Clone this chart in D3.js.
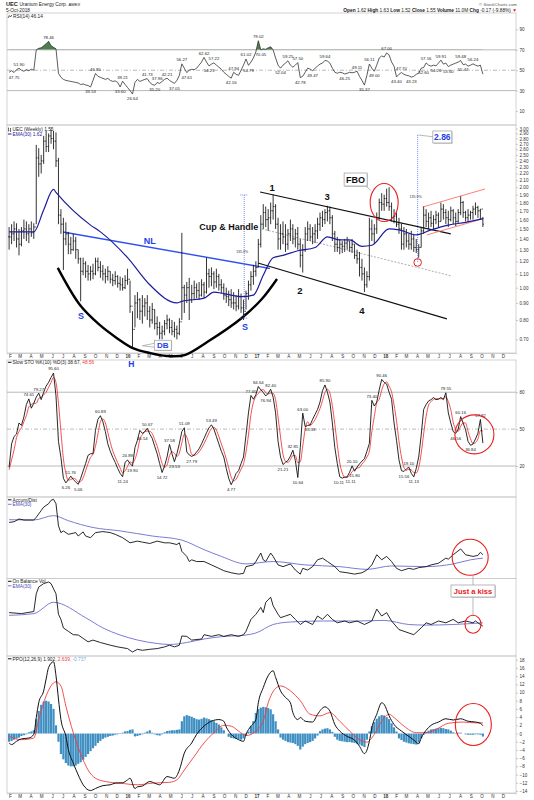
<!DOCTYPE html>
<html><head><meta charset="utf-8"><title>UEC weekly</title>
<script src="https://cdn.jsdelivr.net/npm/d3@7/dist/d3.min.js"></script>
<style>html,body{margin:0;padding:0;background:#fff}svg{display:block}</style>
</head><body>
<svg id="chart" width="534" height="800"></svg>
<script>
// ---------------- DATA ----------------
const firstWeek = "2015-01-30";
const monthLetters = ["J","F","M","A","M","J","J","A","S","O","N","D"];

const priceHigh = [1.52,1.55,1.58,1.56,1.50,1.52,1.60,1.58,1.55,1.58,1.56,
 2.68,2.62,2.50,2.85,2.95,2.90,2.98,2.95,2.92,
 2.45,1.72,1.62,1.57,1.47,1.42,1.45,1.42,1.30,1.23,
 1.23,1.20,1.17,1.16,1.18,1.23,1.23,1.20,1.17,1.14,
 1.16,1.12,1.10,1.12,1.09,1.08,1.07,1.09,1.14,1.05,
 0.85,0.95,0.97,0.93,0.95,0.93,0.95,0.88,0.90,0.86,
 0.82,0.79,0.77,0.80,0.83,0.81,0.80,0.79,0.77,0.81,
 1.46,1.02,1.04,1.07,1.02,1.05,1.03,1.04,1.06,1.04,
 1.23,1.14,1.15,1.12,1.14,1.10,1.06,1.03,1.00,0.98,
 0.99,0.97,0.95,0.99,0.96,0.92,0.98,1.05,1.12,1.17,
 1.20,1.40,1.65,1.78,1.75,1.72,1.80,1.90,1.78,1.62,
 1.55,1.58,1.55,1.50,1.60,1.55,1.50,1.52,1.40,1.35,
 1.52,1.58,1.55,1.52,1.55,1.62,1.68,1.70,1.72,1.76,
 1.75,1.65,1.48,1.42,1.40,1.38,1.40,1.42,1.38,1.40,
 1.35,1.30,1.28,1.22,1.15,1.12,1.62,1.60,1.55,1.68,
 1.85,1.92,1.90,1.98,2.00,1.80,1.72,1.68,1.62,1.56,
 1.52,1.50,1.45,1.48,1.45,1.40,1.35,1.52,1.75,1.72,
 1.68,1.70,1.65,1.70,1.68,1.80,1.78,1.72,1.70,1.75,
 1.72,1.68,1.72,1.88,1.82,1.70,1.72,1.70,1.76,1.80,
 1.76,1.72,1.63];
const priceLow = [1.30,1.35,1.38,1.32,1.25,1.33,1.40,1.38,1.36,1.42,1.40,
 1.55,2.15,2.20,2.35,2.55,2.55,2.70,2.60,2.30,
 1.55,1.45,1.13,1.34,1.26,1.26,1.29,1.22,1.18,0.91,
 1.09,1.07,1.05,1.05,1.06,1.09,1.12,1.07,1.05,1.03,
 1.05,1.03,1.01,1.02,1.00,0.98,0.98,0.99,1.02,0.84,
 0.66,0.76,0.81,0.80,0.78,0.82,0.80,0.76,0.78,0.75,
 0.72,0.70,0.70,0.72,0.75,0.73,0.72,0.71,0.70,0.72,
 0.80,0.84,0.90,0.80,0.90,0.92,0.93,0.92,0.94,0.93,
 0.96,1.00,1.01,0.99,1.00,0.98,0.96,0.92,0.90,0.88,
 0.87,0.86,0.85,0.86,0.84,0.80,0.86,0.92,0.98,1.02,
 1.08,1.15,1.32,1.50,1.52,1.48,1.55,1.60,1.50,1.30,
 1.30,1.35,1.28,1.30,1.38,1.35,1.32,1.30,1.15,1.11,
 1.28,1.38,1.38,1.35,1.36,1.40,1.48,1.52,1.55,1.58,
 1.55,1.38,1.28,1.28,1.26,1.27,1.28,1.30,1.28,1.27,
 1.22,1.18,1.08,1.05,0.97,1.00,1.05,1.38,1.35,1.45,
 1.60,1.70,1.70,1.75,1.70,1.58,1.56,1.52,1.45,1.30,
 1.30,1.32,1.30,1.30,1.28,1.27,1.23,1.32,1.45,1.52,
 1.50,1.52,1.50,1.55,1.52,1.58,1.60,1.55,1.52,1.58,
 1.55,1.53,1.56,1.65,1.62,1.58,1.57,1.60,1.60,1.65,
 1.62,1.60,1.52];
const priceClose = [1.42,1.45,1.50,1.40,1.35,1.48,1.50,1.45,1.50,1.46,1.52,
 2.45,2.35,2.40,2.75,2.65,2.85,2.80,2.75,2.40,
 1.65,1.55,1.40,1.45,1.35,1.30,1.38,1.30,1.22,1.12,
 1.18,1.12,1.10,1.12,1.10,1.20,1.15,1.12,1.10,1.08,
 1.12,1.06,1.05,1.08,1.03,1.02,1.00,1.05,1.06,0.88,
 0.75,0.90,0.92,0.85,0.88,0.90,0.85,0.80,0.86,0.78,
 0.76,0.73,0.74,0.78,0.80,0.76,0.74,0.75,0.73,0.79,
 1.00,0.95,1.00,0.92,0.96,1.00,0.98,0.95,1.02,0.97,
 1.10,1.08,1.10,1.04,1.08,1.02,1.00,0.95,0.94,0.92,
 0.90,0.90,0.88,0.94,0.87,0.85,0.96,1.02,1.08,1.12,
 1.15,1.35,1.55,1.68,1.60,1.62,1.70,1.75,1.55,1.40,
 1.45,1.42,1.35,1.45,1.50,1.40,1.45,1.35,1.25,1.30,
 1.45,1.50,1.42,1.45,1.48,1.55,1.62,1.60,1.68,1.70,
 1.62,1.45,1.35,1.32,1.35,1.33,1.36,1.38,1.32,1.35,
 1.25,1.22,1.15,1.10,1.02,1.08,1.50,1.45,1.50,1.62,
 1.80,1.78,1.85,1.80,1.75,1.62,1.64,1.55,1.50,1.35,
 1.45,1.38,1.35,1.40,1.32,1.30,1.32,1.48,1.65,1.58,
 1.62,1.56,1.60,1.65,1.58,1.72,1.68,1.62,1.60,1.70,
 1.62,1.58,1.68,1.80,1.68,1.62,1.65,1.68,1.72,1.74,
 1.70,1.72,1.55];

const emaWeek  = [0,10,14,18,19,33,37,48,57,68,70,79,83,87,94,99,103,107,111,117,124,129,134,138,143,147,154,158,165,171,178,185,192];
const emaValue = [1.47,1.47,1.71,1.97,1.93,1.54,1.47,1.23,1.02,0.90,0.91,0.93,0.97,0.96,0.94,0.95,1.09,1.23,1.25,1.29,1.32,1.42,1.39,1.39,1.33,1.34,1.50,1.49,1.44,1.49,1.54,1.57,1.61];

const rsiValues = [48,49.5,47.75,50.5,51.9,50,49,50.5,49.5,51,50,
 70,71.5,72,74,76,78.46,74,72.5,71,
 47,43,41,40,39.5,39,38.5,38,37.5,36,
 36.5,35.5,35,33.53,40,46.85,44,43,42,41,
 42,40,39,39.5,38,33.6,39.21,36,33,30,
 26.64,38,41,39,40,41,41.73,38,36,35.2,
 37.96,37,39,41,42.21,40,38.5,37.05,40,45,
 56.27,52,47.61,50,51,50.5,52,55,58,62.62,
 58,54.23,56,57.22,55,53,51,48,46,44,
 42.16,47.94,46,45,50,55,61.02,54.79,58,62,
 68,79.02,70.05,71,70.5,72,73,70,62,55,
 52.04,55,57,59.25,55,53,55,57.5,42.78,44,
 48,52,51,49.47,52,54,56,57,59.64,59,
 57,52,48,47,48,47.5,46.25,47,48,47.5,
 48,49.11,44,40,35.37,45,56.11,52,49,55,
 62,64,63,67,65,58,54,43.4,46,47.7,
 46,45,44.5,43.23,44,46,47,52,52.6,57.16,
 55,54,55,54.26,57,59.91,56,57,53.6,55,
 56,57,58,59.48,55.47,56,54,55,56.24,55,
 54,55,46.14];
const rsiLabelIdx = [2,4,16,33,35,45,46,50,56,59,60,64,67,70,72,79,81,83,90,91,96,97,101,102,110,113,117,118,123,128,136,141,144,146,148,153,157,159,163,168,169,173,175,178,183,184,188];
const rsiLabelUp  = [0,1,1,0,1,0,1,0,1,0,1,1,0,1,0,1,0,1,0,1,1,0,1,0,0,1,1,0,0,1,0,1,0,1,0,1,0,1,0,0,1,0,1,0,1,0,1];

const stoK = [19,38,44,46,55,53,60,70,74.61,67,
 71,76,79.27,74,80,85,88,92,95.6,77,
 40,27,10,6.26,9,11.76,9,7,5.06,10,
 16,22,28.7,30,30,49,58,60.89,56,48,
 38,32,27,23,18,14,11.24,23,24.89,22,
 19.9,35,41,49,46.54,48,50.67,46,42.5,36,
 30,22,14.72,20,27.3,37.58,30,23.53,30,38.3,
 48,51.09,31.4,29,27.79,29,31.4,34,38,42.5,
 47,51,53.49,50,44,38,32,27.3,18,10,
 4.77,9,14,16.2,22,27.3,45,63.2,77.4,74.3,
 78,84.64,82,79.8,76.94,79,82.4,76,63.2,40,
 27.3,21.21,23,24.5,28,32.85,24.5,10.64,35,63,
 52,53,53.33,58,62,66,72,81.2,85.9,80,
 72,55,35,22,11.2,10.11,11,11.11,15,20.1,
 15.8,19,21.7,24,25.9,32,38.3,73.4,68.8,72,
 82,90.46,88,86.7,80,74.3,55,41,25,16.2,
 15.56,17.6,19.1,14,11.13,18,27.3,45,66,70,
 72.9,74,75.7,74,74.3,75.7,74,79.55,63.2,55,
 48,46.56,50,60.16,55,49.4,40,36.84,37.8,42,
 46.6,57.82,38.67];
const stoD = [17,25,33,43,48,51,56,61,68,70,
 71,71,75,76,78,80,84,88,92,88,
 71,48,26,14,8.5,9,10,9.3,7,7.4,
 10.4,16,22,27,29.6,36,46,56,58.3,55,
 47.3,39.3,32.3,27.3,22.7,18.3,14.4,16,19.7,23.3,
 22.3,25.6,32,41.7,45.5,47.8,48.4,48.2,46.4,41.5,
 36.2,29.3,22.2,19,20.7,28.3,31.6,30.4,27.8,30.6,
 38.8,45.8,43.5,37.2,29.4,28.6,29.4,31.5,34.5,38.2,
 42.5,46.8,50.5,51.5,49.2,44,38,32.4,25.8,18.4,
 10.9,7.9,9.3,13.1,17.4,21.8,31.4,45.2,61.9,71.6,
 76.6,79,81.5,82.1,79.6,78.6,79.4,79.1,73.9,59.7,
 43.5,29.5,23.8,22.9,25.2,28.5,28.5,22.7,23.4,36.2,
 50,56,52.8,54.8,57.8,62,66.7,73.1,79.7,82.4,
 79.3,69,54,37.3,22.7,14.4,10.8,10.7,12.4,15.4,
 17,18.3,18.8,21.6,23.9,27.3,32.1,47.9,60.2,71.4,
 74.3,81.5,86.8,88.4,84.9,80.3,69.8,56.8,40.3,27.4,
 18.9,16.5,17.4,16.9,14.7,14.4,18.8,30.1,46.1,60.3,
 69.6,72.3,74.2,74.6,74.7,74.7,74.7,76.4,72.3,65.9,
 55.4,49.9,48.2,52.3,55.1,54.9,48.1,42.1,38.2,38.9,
 42.1,48.8,48.56];
const stoLabelIdx = [8,12,18,23,25,28,37,46,48,50,54,56,62,65,67,71,74,82,90,98,101,104,106,111,115,117,119,122,128,135,137,139,140,147,151,160,162,164,177,181,183,187,191];
const stoLabelUp  = [1,1,1,0,1,0,1,0,1,0,0,1,0,1,0,1,0,1,0,1,1,0,1,0,1,0,1,0,1,0,0,1,0,1,1,0,1,0,1,0,1,0,1];

const adWeek  = [0,2,4,6,10,11,12,13,14,16,17,18,19,20,21,22,24,27,28,30,31,33,35,38,41,43,46,49,52,54,57,60,63,65,68,69,70,72,73,74,76,79,82,85,87,90,93,95,96,99,100,102,103,104,106,107,109,111,114,116,118,119,121,123,125,127,129,132,134,137,140,143,145,147,149,151,153,155,157,159,162,164,166,169,171,174,177,178,180,183,185,188,190,191,192];
const adValue = [170,172,180,177,177,185,195,205,215,225,235,238,225,160,140,145,135,140,130,142,130,125,140,143,140,135,125,110,115,112,108,115,110,110,105,110,85,70,55,60,55,55,45,35,28,22,18,20,40,45,55,80,60,55,80,70,45,40,48,30,18,35,30,40,60,65,55,40,25,22,18,22,30,45,75,60,70,55,35,28,35,32,37,40,45,50,65,62,75,92,75,70,73,82,75];
const adEmaWeek  = [0,10,18,24,34,45,58,70,79,86,96,107,120,134,145,155,169,180,187,192];
const adEmaValue = [178,177,190,175,155,145,130,118,90,70,48,55,45,40,32,42,40,48,60,65];

const obvWeek  = [0,5,10,11,12,14,16,17,19,20,21,22,24,26,28,30,32,34,37,41,44,48,50,52,54,57,60,63,65,67,69,70,72,74,78,79,82,85,87,90,93,95,96,98,100,102,103,104,106,107,109,110,112,114,116,118,120,123,125,127,129,131,133,136,138,141,144,147,149,151,153,155,158,160,164,167,169,171,174,177,180,182,185,188,189,190,192];
const obvValue = [47.4,46.4,48.5,66.2,73,76.4,78,76.4,66.2,45.7,40.6,32.1,28.7,25.3,25,21.6,18.2,19.9,17.5,14.8,13.1,11.4,8,10.7,9.7,10.7,11.4,13.1,14.8,13.1,14.8,24,23.6,19.9,21,25.3,23.6,25.3,23.6,25.3,23.6,25.3,28.7,40.6,45.7,52.6,47.4,57.7,62.8,54.3,45.7,42.3,44,45.7,40.6,35.5,39,35.5,44,40.6,45.7,40.6,37.2,39,37.2,39,35.5,39,50.9,44,47.4,39,30.4,28.7,25.3,32.1,37.2,35.5,39,37.2,40.6,37.2,39,37.2,39,37.2,33.8];
const obvEmaWeek  = [0,10,18,31,38,45,52,60,65,72,79,86,96,100,107,114,127,141,152,162,169,180,192];
const obvEmaValue = [44.7,46.4,57.7,42.3,32.1,25,20,16.5,15.5,17.5,21,23.3,25,27,35.5,38,39,39,39.6,35.5,34.9,35.5,37.2];

const ppoWeek  = [0,1,3,5,8,10,11,12,14,15,16,18,19,20,21,23,24,26,28,30,33,35,38,41,43,46,48,49,51,52,54,57,59,61,64,67,69,71,74,76,79,82,85,87,88,90,93,95,96,98,100,101,103,105,107,108,110,112,114,115,117,118,120,123,125,128,130,132,134,137,140,142,144,146,147,149,151,152,154,156,159,162,164,166,167,169,171,174,177,180,183,186,189,191,192];
const ppoValue = [-2.3,-2.7,-1.9,-1.3,-1.1,-0.2,3.9,7.5,10.4,13.3,16.1,17.5,14.1,8.4,3.4,-0.7,-3.9,-7.2,-10.1,-12.5,-13.9,-13.4,-12.7,-12.5,-12.1,-12,-11.3,-10.9,-13.4,-13,-12.8,-11.7,-12.1,-12.5,-10.5,-10.9,-8.9,-4.8,-2.3,-0.2,1.8,3.0,3.4,3.0,1.6,-0.2,-1.5,-1.9,-0.2,1.8,3.4,7.5,11.2,14.1,15.3,13.7,10.4,8.8,7.5,5.1,3.4,3.9,3.0,2.8,4.7,6.5,5.5,2.2,0.6,-0.7,-1.6,-3.1,-4.9,-1.9,1.4,4.7,7.5,7.1,4.3,2.2,0.6,-0.7,-1.6,-2.5,-1.1,0.8,2.0,2.8,3.6,3.3,3.6,3.0,2.8,2.5,1.9];
const sigWeek  = [0,5,10,12,15,19,21,23,26,30,32,35,39,45,52,58,65,68,71,75,79,83,87,90,93,96,100,103,105,108,110,114,118,122,126,130,134,138,142,145,148,151,154,156,160,165,169,173,178,184,189,192];
const sigValue = [-0.7,-1.5,-1.1,3.4,9.2,12.6,11.6,6.7,0.2,-6.4,-8.9,-10.9,-11.7,-12.1,-12.5,-12.1,-11.9,-11.3,-8.9,-5.6,-2.3,0.2,2.0,1.8,0.6,-0.5,0.6,3.0,7.5,11,11.6,10.4,8,4.7,4.3,5.1,3.0,0.6,-1.5,-2.1,-0.2,3.0,4.7,3.9,1.8,0.2,0.2,1.0,2.5,2.8,2.6,2.6];
const ppoHist = [-2.0,-1.8,-1.5,-1.2,-1.0,-0.6,-0.4,-0.2,0.3,0.5,0.8,
 3.5,5.5,7,7.8,8,7.8,7.2,6,2,
 -2,-5,-6.3,-7.2,-7.8,-8,-8,-7.8,-7.4,-7,-6.4,-5.7,-5,-4.3,-3.6,-3,-2.3,-1.8,-1.3,-1,-0.8,-0.6,-0.5,-0.3,-0.2,-0.1,
 0.2,0.5,0.6,0.9,1.0,-0.7,-0.6,-0.4,-0.2,0.2,0.5,0.8,0.2,-0.2,-0.4,-0.5,-0.2,0.3,0.6,0.7,0.8,0.8,0.9,1.0,
 3.0,4.2,4.5,4.3,4.1,3.8,3.5,3.4,3.6,3.9,3.7,3.5,3.3,3.0,2.6,2.2,1.5,0.8,0,
 -0.8,-1.1,-1.2,-1.3,-1.4,-1.5,-1.2,-0.5,
 0.5,1.8,3,5,6,6.3,6.5,6.4,6.2,5.9,4.7,3,1,
 -1,-1.5,-1.8,-2.1,-2.2,-2.3,-2.6,-3,-3.9,-3.2,-2.6,-2.3,-2.1,-1.8,-1.2,-0.5,
 0.6,1.0,1.2,1.3,1.0,0.4,
 -0.8,-1.5,-1.8,-1.9,-2.0,-2.1,-2.1,-2.2,-2.3,-2.5,-2.7,-3.0,-3.3,-1.5,
 0.5,1.8,2.8,3.6,4.2,4.5,4.4,4.0,3.5,2.5,1.5,0.5,
 -1.2,-1.6,-2.0,-2.2,-2.4,-2.5,-2.6,-2.7,-2.2,-1.2,-0.3,
 0.4,0.7,1.0,1.1,1.2,1.3,1.4,1.3,1.1,1.0,0.7,0.3,
 0.1,0.2,0.2,0,-0.2,-0.3,-0.3,-0.3,-0.2,-0.2,-0.3,-0.74];

const priceTicks = [0.70,0.80,0.90,1.00,1.10,1.20,1.30,1.40,1.50,1.60,1.70,1.80,1.90,2.00,2.10,2.20,2.30,2.40,2.50,2.60,2.70,2.80,2.90,3.00];
const rsiTicks = [10,30,50,70,90];
const stoTicks = [20,50,80];
const ppoTicks = [-14,-12,-10,-8,-6,-4,-2,0,2,4,6,8,10,12,14,16,18];

// annotation anchors (date, price / value)
const cupArcDates  = ["2015-06-17","2015-08-19","2015-10-14","2015-12-01","2016-01-16","2016-03-04","2016-04-21","2016-06-11","2016-08-15","2016-11-20","2017-01-16","2017-02-28"];
const cupArcPrices = [1.146,0.887,0.773,0.707,0.659,0.637,0.624,0.628,0.688,0.811,0.925,1.062];

// ---------------- DRAW ----------------
const FONT = '"Liberation Sans", Arial, Helvetica, sans-serif';
const BLUE = "#1f3fe6", RED = "#e8201e", EMA_BLUE = "#1c1c9c", LAV = "#7b7bd6", SIG_RED = "#f23c3c", HIST = "#3f8fc2";
const svg = d3.select("#chart").attr("font-family", FONT);
const parse = d3.timeParse("%Y-%m-%d");
const L = 7, R = 516;
const x = d3.scaleTime().domain([new Date(2015,0,24), new Date(2019,0,7)]).range([L, R]);
const w0 = parse(firstWeek);
const dates = priceClose.map((_, i) => d3.timeDay.offset(w0, 7 * i));
const X = i => x(dates[i]);
const XD = s => x(parse(s));

const P = {
  rsi:   {top: 13,    bottom: 125},
  price: {top: 125,   bottom: 353},
  sto:   {top: 360,   bottom: 497},
  ad:    {top: 497,   bottom: 578.5},
  obv:   {top: 578.5, bottom: 656},
  ppo:   {top: 656,   bottom: 793}
};
const yRsi   = d3.scaleLinear().domain([-3.8, 106.2]).range([P.rsi.bottom, P.rsi.top]);
const yPrice = d3.scaleLog().domain([0.637, 3.074]).range([P.price.bottom, P.price.top]);
const ySto   = d3.scaleLinear().domain([-5.2, 106.2]).range([P.sto.bottom, P.sto.top]);
const yAd    = d3.scaleLinear().domain([5.1, 244.7]).range([P.ad.bottom, P.ad.top]);
const yObv   = d3.scaleLinear().domain([4, 81.5]).range([P.obv.bottom, P.obv.top]);
const yPpo   = d3.scaleLinear().domain([-14.5, 18.9]).range([P.ppo.bottom, P.ppo.top]);

// panel frames
Object.values(P).forEach(p => {
  svg.append("rect").attr("x", L).attr("y", p.top).attr("width", R - L).attr("height", p.bottom - p.top)
    .attr("fill", "none").attr("stroke", "#c9c9c9").attr("stroke-width", 0.8);
});

function rightAxis(scale, ticks, fmt) {
  const g = svg.append("g").attr("transform", `translate(${R},0)`)
    .call(d3.axisRight(scale).tickValues(ticks).tickFormat(fmt).tickSize(2).tickPadding(1.5));
  g.select(".domain").remove();
  g.selectAll("line").attr("stroke", "#999").attr("stroke-width", 0.5);
  g.selectAll("text").attr("font-size", 4.6).attr("fill", "#333").attr("font-family", FONT);
}
rightAxis(yRsi, rsiTicks, d3.format("d"));
rightAxis(yPrice, priceTicks, d3.format(".2f"));
rightAxis(ySto, stoTicks, d3.format("d"));
rightAxis(yPpo, ppoTicks, d3.format("d"));

function hGrid(scale, v, dash) {
  svg.append("line").attr("x1", L).attr("x2", R).attr("y1", scale(v)).attr("y2", scale(v))
    .attr("stroke", "#a8a8a8").attr("stroke-width", 0.8).attr("stroke-dasharray", dash || null);
}
hGrid(yRsi, 70); hGrid(yRsi, 30); hGrid(yRsi, 50, "4,2,1,2");
hGrid(ySto, 80); hGrid(ySto, 20); hGrid(ySto, 50, "4,2,1,2");

// date axes
const months = d3.timeMonth.range(new Date(2015,1,1), new Date(2019,0,1));
function dateAxis(yLine) {
  const g = svg.append("g").attr("transform", `translate(0,${yLine})`)
    .call(d3.axisBottom(x).tickValues(months).tickSize(1.5).tickPadding(0.5)
      .tickFormat(m => m.getMonth() === 0 ? String(m.getFullYear()).slice(2) : monthLetters[m.getMonth()]));
  g.select(".domain").attr("stroke", "#bbb").attr("stroke-width", 0.6);
  g.selectAll("line").attr("stroke", "#aaa").attr("stroke-width", 0.5);
  g.selectAll("text").attr("font-size", 4.6).attr("fill", "#333").attr("font-family", FONT)
    .attr("font-weight", m => m.getMonth() === 0 ? "bold" : "normal");
}
dateAxis(P.price.bottom);
dateAxis(P.ppo.bottom);

// ---------- header ----------
function txt(xp, yp, s, o) {
  o = o || {};
  return svg.append("text").attr("x", xp).attr("y", yp).attr("font-size", o.size || 4.8)
    .attr("font-weight", o.bold ? "bold" : "normal").attr("fill", o.fill || "#222")
    .attr("text-anchor", o.anchor || "start").text(s);
}
const h1 = svg.append("text").attr("x", 6).attr("y", 6.2).attr("font-size", 4.8).attr("fill", "#222");
h1.append("tspan").attr("font-weight", "bold").attr("font-size", 5.6).text("UEC ");
h1.append("tspan").text("Uranium Energy Corp.  ");
h1.append("tspan").attr("font-size", 4.2).text("AMEX");
txt(6, 12.2, "5-Oct-2018");
txt(517, 6, "© StockCharts.com", {anchor: "end", size: 4.4, fill: "#555"});
const h2 = svg.append("text").attr("x", 517).attr("y", 12.2).attr("font-size", 4.8).attr("text-anchor", "end").attr("fill", "#222");
[["Open ", "1.62  "], ["High ", "1.63  "], ["Low ", "1.52  "], ["Close ", "1.55  "], ["Volume ", "11.0M  "], ["Chg ", "-0.17 (-9.88%) "]].forEach(([k, v]) => {
  h2.append("tspan").attr("font-weight", "bold").text(k);
  h2.append("tspan").text(v);
});
h2.append("tspan").attr("fill", RED).text("▼");

function legendLine(xp, yp, color) {
  svg.append("line").attr("x1", xp).attr("x2", xp + 3.5).attr("y1", yp).attr("y2", yp).attr("stroke", color).attr("stroke-width", 1);
}
// RSI legend
svg.append("path").attr("d", d3.line()([[8, 18], [9.3, 15.5], [10.5, 17], [11.8, 14.8]])).attr("fill", "none").attr("stroke", "#222").attr("stroke-width", 0.7);
txt(13, 18, "RSI(14) 46.14");

// ---------- RSI panel ----------
const rsiLine = d3.line().x((d, i) => X(i)).y(d => yRsi(d));
svg.append("clipPath").attr("id", "above70").append("rect").attr("x", L).attr("y", P.rsi.top).attr("width", R - L).attr("height", yRsi(70) - P.rsi.top);
svg.append("path").datum(rsiValues).attr("clip-path", "url(#above70)")
  .attr("d", d3.area().x((d, i) => X(i)).y0(yRsi(70)).y1(d => yRsi(d))).attr("fill", "#4f7f4f");
svg.append("path").datum(rsiValues).attr("d", rsiLine).attr("fill", "none").attr("stroke", "#333").attr("stroke-width", 0.8);

function valueLabels(vals, idxs, ups, yScale, bottomLimit, nudge) {
  const g = svg.append("g").attr("font-size", 4.3).attr("fill", "#222").attr("text-anchor", "middle");
  idxs.forEach((i, k) => {
    let yy = yScale(vals[i]) + (ups[k] ? -2.6 : 6.2);
    yy = Math.min(yy, bottomLimit);
    const dx = (nudge && nudge[i]) || 0;
    g.append("text").attr("x", X(i) + dx).attr("y", yy).text(vals[i].toFixed(2));
  });
}
valueLabels(rsiValues, rsiLabelIdx, rsiLabelUp, yRsi, P.rsi.bottom - 2);

// ---------- Price panel ----------
svg.append("path").attr("d", "M8.5,127.5V131.5M8,128.5H8.5M8.5,130.5H9.2M10.5,128V132M10,129H10.5M10.5,131H11.2").attr("stroke", "#222").attr("stroke-width", 0.6).attr("fill", "none");
txt(12.5, 131, "UEC (Weekly) 1.55");
legendLine(8, 134, EMA_BLUE);
txt(12.5, 135.8, "EMA(30) 1.62", {fill: EMA_BLUE});

// cup arc
svg.append("path").datum(cupArcDates.map((d, k) => [XD(d), yPrice(cupArcPrices[k])]))
  .attr("d", d3.line().curve(d3.curveCatmullRom.alpha(0.5))).attr("fill", "none").attr("stroke", "#000").attr("stroke-width", 2.4);

function segLine(d, p, color, width, dash) {
  svg.append("line").attr("x1", XD(d[0])).attr("y1", yPrice(p[0])).attr("x2", XD(d[1])).attr("y2", yPrice(p[1]))
    .attr("stroke", color).attr("stroke-width", width).attr("stroke-dasharray", dash || null);
}
segLine(["2015-07-02", "2017-02-08"], [1.469, 1.142], "#2f4ff0", 1.4);
segLine(["2017-01-11", "2018-07-06"], [1.936, 1.449], "#111", 1.2);
segLine(["2017-01-05", "2018-06-25"], [1.186, 0.806], "#111", 1.2);
segLine(["2017-01-16", "2018-07-09"], [1.50, 1.084], "#999", 0.8, "2,1.5");
segLine(["2018-04-17", "2018-10-11"], [1.745, 1.976], "#ff7070", 0.9);
segLine(["2018-04-29", "2018-10-08"], [1.439, 1.612], "#ff7070", 0.9);

// price bars
const bars = svg.append("g").attr("stroke", "#111").attr("stroke-width", 0.85);
priceClose.forEach((c, i) => {
  const xi = X(i), o = i > 0 ? priceClose[i - 1] : c;
  bars.append("line").attr("x1", xi).attr("x2", xi).attr("y1", yPrice(priceHigh[i])).attr("y2", yPrice(priceLow[i]));
  bars.append("line").attr("x1", xi - 1).attr("x2", xi).attr("y1", yPrice(o)).attr("y2", yPrice(o));
  bars.append("line").attr("x1", xi).attr("x2", xi + 1).attr("y1", yPrice(c)).attr("y2", yPrice(c));
});
svg.append("path").datum(emaWeek.map((w, k) => [X(w), yPrice(emaValue[k])]))
  .attr("d", d3.line().curve(d3.curveMonotoneX)).attr("fill", "none").attr("stroke", EMA_BLUE).attr("stroke-width", 1.2);

function measure(d, pTop, pBot, pLabel, caps) {
  const xm = XD(d);
  svg.append("line").attr("x1", xm).attr("x2", xm).attr("y1", yPrice(pTop)).attr("y2", yPrice(pBot))
    .attr("stroke", "#5a6cf0").attr("stroke-width", 0.8).attr("stroke-dasharray", "1,1");
  if (caps) [pTop, pBot].forEach(p => svg.append("line").attr("x1", xm - 4).attr("x2", xm + 4).attr("y1", yPrice(p)).attr("y2", yPrice(p))
    .attr("stroke", "#5a6cf0").attr("stroke-width", 0.8).attr("stroke-dasharray", "1,1"));
  txt(xm - 2, yPrice(pLabel), "135.9%", {size: 3.6, anchor: "middle", fill: "#333"});
}
measure("2016-11-27", 1.896, 0.81, 1.27, true);
measure("2018-04-03", 2.87, 1.19, 1.86, false);

function calloutBox(xc, yc, w, h, label, color, size) {
  svg.append("rect").attr("x", xc - w / 2 + 0.8).attr("y", yc - h / 2 + 0.8).attr("width", w).attr("height", h).attr("fill", "#c8c8c8");
  svg.append("rect").attr("x", xc - w / 2).attr("y", yc - h / 2).attr("width", w).attr("height", h).attr("fill", "#fff").attr("stroke", "#9a9a9a").attr("stroke-width", 0.7);
  txt(xc, yc + size * 0.36, label, {size: size, bold: true, fill: color, anchor: "middle"});
}
svg.append("line").attr("x1", XD("2018-04-05")).attr("y1", yPrice(2.87)).attr("x2", XD("2018-05-20")).attr("y2", yPrice(2.83)).attr("stroke", "#999").attr("stroke-width", 0.7);
calloutBox(XD("2018-06-12"), yPrice(2.83), 19, 12, "2.86", BLUE, 8.5);
svg.append("line").attr("x1", XD("2017-10-25")).attr("y1", yPrice(2.07)).attr("x2", XD("2017-11-21")).attr("y2", yPrice(1.96)).attr("stroke", "#999").attr("stroke-width", 0.7);
calloutBox(XD("2017-10-09"), yPrice(2.11), 23, 13, "FBO", "#111", 9);
svg.append("ellipse").attr("cx", XD("2017-12-29")).attr("cy", yPrice(1.80)).attr("rx", 14).attr("ry", 19).attr("fill", "none").attr("stroke", RED).attr("stroke-width", 1.1);
svg.append("circle").attr("cx", XD("2018-04-03")).attr("cy", yPrice(1.19)).attr("r", 3.8).attr("fill", "none").attr("stroke", RED).attr("stroke-width", 1);
(function () {
  const xc = XD("2016-04-10"), yc = yPrice(0.672);
  svg.append("path").attr("d", `M${xc - 8},${yc - 2} L${XD("2016-02-12")},${yc + 0.5} L${xc - 8},${yc + 2}`).attr("fill", "#fff").attr("stroke", "#9a9a9a").attr("stroke-width", 0.7);
  calloutBox(xc, yc, 17, 10, "DB", BLUE, 8);
})();

[
  ["NL", "2016-03-04", 1.38, BLUE, 9],
  ["S", "2015-08-22", 0.823, BLUE, 9],
  ["S", "2016-11-29", 0.762, BLUE, 9],
  ["Cup & Handle", "2016-10-14", 1.52, "#111", 9],
  ["1", "2017-02-14", 1.99, "#111", 9.5],
  ["3", "2017-07-20", 1.87, "#111", 9.5],
  ["2", "2017-05-04", 0.977, "#111", 9.5],
  ["4", "2017-10-27", 0.851, "#111", 9.5]
].forEach(([t, d, p, c, s]) => txt(XD(d), yPrice(p) + s * 0.36, t, {size: s, bold: true, fill: c, anchor: "middle"}));
txt(XD("2016-01-12"), P.price.bottom + 13.5, "H", {size: 8.5, bold: true, fill: BLUE, anchor: "middle"});

// ---------- STO panel ----------
legendLine(8, 362.3, "#111");
const sl = svg.append("text").attr("x", 12.5).attr("y", 364).attr("font-size", 4.8).attr("fill", "#222");
sl.append("tspan").text("Slow STO %K(10) %D(3) 38.67, ");
sl.append("tspan").attr("fill", SIG_RED).text("48.56");
svg.append("path").datum(stoD).attr("d", d3.line().x((d, i) => X(i)).y(d => ySto(d)).curve(d3.curveMonotoneX)).attr("fill", "none").attr("stroke", SIG_RED).attr("stroke-width", 0.9);
svg.append("path").datum(stoK).attr("d", d3.line().x((d, i) => X(i)).y(d => ySto(d))).attr("fill", "none").attr("stroke", "#111").attr("stroke-width", 0.9);
valueLabels(stoK, stoLabelIdx, stoLabelUp, ySto, P.sto.bottom - 2, {135: -3.5, 137: 3.5});
svg.append("circle").attr("cx", XD("2018-09-11")).attr("cy", ySto(45.7)).attr("r", 19.5).attr("fill", "none").attr("stroke", RED).attr("stroke-width", 1.1);

// ---------- A/D panel ----------
legendLine(8, 499.8, "#111");
txt(12.5, 501.5, "Accum/Dist");
legendLine(8, 504.3, LAV);
txt(12.5, 506, "EMA(30)", {fill: "#4a4ab8"});
svg.append("path").datum(adEmaWeek.map((w, k) => [X(w), yAd(adEmaValue[k])])).attr("d", d3.line().curve(d3.curveMonotoneX)).attr("fill", "none").attr("stroke", LAV).attr("stroke-width", 1);
svg.append("path").datum(adWeek.map((w, k) => [X(w), yAd(adValue[k])])).attr("d", d3.line()).attr("fill", "none").attr("stroke", "#111").attr("stroke-width", 0.9);
svg.append("circle").attr("cx", XD("2018-08-30")).attr("cy", yAd(67.4)).attr("r", 18).attr("fill", "none").attr("stroke", RED).attr("stroke-width", 1.1);

// ---------- OBV panel ----------
legendLine(8, 581.3, "#111");
txt(12.5, 583, "On Balance Vol");
legendLine(8, 585.8, LAV);
txt(12.5, 587.5, "EMA(30)", {fill: "#4a4ab8"});
svg.append("path").datum(obvEmaWeek.map((w, k) => [X(w), yObv(obvEmaValue[k])])).attr("d", d3.line().curve(d3.curveMonotoneX)).attr("fill", "none").attr("stroke", LAV).attr("stroke-width", 1);
svg.append("path").datum(obvWeek.map((w, k) => [X(w), yObv(obvValue[k])])).attr("d", d3.line()).attr("fill", "none").attr("stroke", "#111").attr("stroke-width", 0.9);
svg.append("ellipse").attr("cx", XD("2018-09-07")).attr("cy", yObv(35.8)).attr("rx", 8).attr("ry", 9).attr("fill", "none").attr("stroke", RED).attr("stroke-width", 1.1);
(function () {
  const xc = XD("2018-09-07");
  svg.append("line").attr("x1", xc).attr("x2", xc).attr("y1", yAd(67.4) + 18).attr("y2", yObv(69) - 6).attr("stroke", "#999").attr("stroke-width", 0.7);
  svg.append("line").attr("x1", xc).attr("x2", xc).attr("y1", yObv(69) + 6).attr("y2", yObv(35.8) - 9).attr("stroke", "#999").attr("stroke-width", 0.7);
  calloutBox(xc, yObv(69), 44, 12, "Just a kiss", RED, 7.5);
})();

// ---------- PPO panel ----------
legendLine(8, 658.8, "#111");
const pl = svg.append("text").attr("x", 12.5).attr("y", 660.5).attr("font-size", 4.8).attr("fill", "#222");
pl.append("tspan").text("PPO(12,26,9) 1.902, ");
pl.append("tspan").attr("fill", SIG_RED).text("2.639, ");
pl.append("tspan").attr("fill", "#6aaede").text("-0.737");
svg.append("g").selectAll("rect").data(ppoHist).join("rect")
  .attr("x", (d, i) => X(i) - 1.1).attr("width", 2.2)
  .attr("y", d => Math.min(yPpo(d), yPpo(0))).attr("height", d => Math.abs(yPpo(d) - yPpo(0)))
  .attr("fill", HIST);
svg.append("path").datum(sigWeek.map((w, k) => [X(w), yPpo(sigValue[k])])).attr("d", d3.line().curve(d3.curveMonotoneX)).attr("fill", "none").attr("stroke", SIG_RED).attr("stroke-width", 0.9);
svg.append("path").datum(ppoWeek.map((w, k) => [X(w), yPpo(ppoValue[k])])).attr("d", d3.line().curve(d3.curveMonotoneX)).attr("fill", "none").attr("stroke", "#111").attr("stroke-width", 1);
svg.append("ellipse").attr("cx", XD("2018-09-08")).attr("cy", yPpo(2.2)).attr("rx", 18).attr("ry", 21).attr("fill", "none").attr("stroke", RED).attr("stroke-width", 1.1);
</script>
</body></html>
